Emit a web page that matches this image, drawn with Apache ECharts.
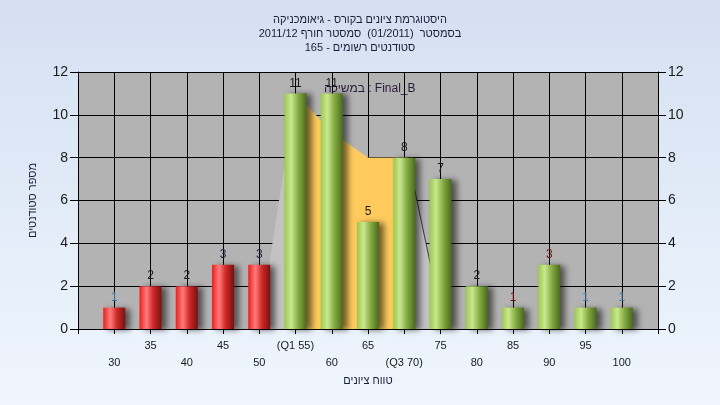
<!DOCTYPE html>
<html><head><meta charset="utf-8">
<script src="https://cdn.jsdelivr.net/npm/echarts@6/dist/echarts.min.js"></script>
<style>html,body{margin:0;padding:0}#c{width:720px;height:405px}</style>
</head><body><div id="c"></div>
<script>
// ---- data ----
const categories = [30, 35, 40, 45, 50, 55, 60, 65, 70, 75, 80, 85, 90, 95, 100];
const counts = [1, 2, 2, 3, 3, 11, 11, 5, 8, 7, 2, 1, 3, 1, 1];
const tickLabels = ['30', '35', '40', '45', '50', '(Q1 55)', '60', '65', '(Q3 70)', '75', '80', '85', '90', '95', '100'];
const failingBins = 5; // first bins drawn red
const titleLines = ['היסטוגרמת ציונים בקורס - גיאומכניקה', 'בסמסטר  (01/2011)  סמסטר חורף 2011/12', 'סטודנטים רשומים - 165'];
const seriesName = 'במשיכה : Final_B';
const xName = 'טווח ציונים';
const yName = 'מספר סטודנטים';
const bandX = [55, 60, 65, 70];
const bandY = [11, 9.2, 8, 8];
const shadeX = [50, 55, 60, 65, 70, 70.5, 75.5];
const shadeY = [0, 11, 9.2, 8, 8, 8, 0];
const edgeX = [70.5, 75.5];
const edgeY = [8, 0];

// ---- styles ----
const labelColors = ['#3d6d9c', '#1a1a1a', '#1a1a1a', '#1c2440', '#1c2440', '#1a1a1a', '#1a1a1a', '#1a1a1a', '#1a1a1a', '#1a1a1a', '#1a1a1a', '#7a0a0a', '#6a1a1a', '#3d7ab0', '#3d7ab0'];
const redGrad = {type: 'linear', x: 0, y: 0, x2: 1, y2: 0, colorStops: [
  {offset: 0, color: '#f01c1c'}, {offset: 0.32, color: '#ff7c7c'}, {offset: 0.62, color: '#d02828'}, {offset: 1, color: '#7a1010'}]};
const greenGrad = {type: 'linear', x: 0, y: 0, x2: 1, y2: 0, colorStops: [
  {offset: 0, color: '#9cc94c'}, {offset: 0.3, color: '#c9e88f'}, {offset: 0.62, color: '#86ab42'}, {offset: 1, color: '#4a6a1c'}]};
const RLE = '\u202B', PDF = '\u202C';
const font = '"Liberation Sans", Arial, "DejaVu Sans", sans-serif';

const chart = echarts.init(document.getElementById('c'), null, {renderer: 'canvas'});
const barData = categories.map((c, i) => ({
  value: [c, counts[i]],
  itemStyle: {color: i < failingBins ? redGrad : greenGrad},
  label: {color: labelColors[i]}
}));

chart.setOption({
  animation: false,
  backgroundColor: {type: 'linear', x: 0, y: 0, x2: 0, y2: 1, colorStops: [
    {offset: 0, color: '#d4e0f2'}, {offset: 1, color: '#eff6fd'}]},
  textStyle: {fontFamily: font},
  title: {
    text: titleLines.map(t => RLE + t + PDF).join('\n'),
    left: 'center', top: 8,
    textStyle: {fontSize: 11, fontWeight: 'normal', color: '#1c1c3a', lineHeight: 14, fontFamily: font}
  },
  legend: {
    data: [{name: seriesName, icon: 'rect'}],
    left: 314, top: 78, itemWidth: 0, itemHeight: 0, itemGap: 0,
    textStyle: {fontSize: 12, color: '#2a1a3a', fontFamily: font}
  },
  grid: {left: 78, right: 62, top: 72, bottom: 76, show: true, backgroundColor: '#b3b3b3', borderWidth: 0},
  xAxis: {
    type: 'value', min: 25, max: 105, interval: 5,
    name: xName, nameLocation: 'middle', nameGap: 46,
    nameTextStyle: {fontSize: 11, color: '#1c1c3a', fontFamily: font},
    axisLine: {show: true, lineStyle: {color: '#000', width: 1}},
    axisTick: {show: true, length: 5, lineStyle: {color: '#000'}},
    splitLine: {show: true, lineStyle: {color: '#000', width: 1}},
    axisLabel: {
      margin: 8, fontSize: 11, color: '#1a1a1a', lineHeight: 17, fontFamily: font,
      formatter: v => {
        const i = categories.indexOf(v);
        if (i < 0) return '';
        return (i % 2 === 0 ? '\n' : '') + tickLabels[i];
      }
    }
  },
  yAxis: [{
    type: 'value', min: 0, max: 12, interval: 2, position: 'left',
    name: yName, nameLocation: 'middle', nameGap: 40, nameRotate: 90,
    nameTextStyle: {fontSize: 11, color: '#1c1c3a', fontFamily: font},
    axisLine: {show: true, lineStyle: {color: '#000'}},
    axisTick: {show: true, length: 8, lineStyle: {color: '#000'}},
    splitLine: {show: true, lineStyle: {color: '#000', width: 1}},
    axisLabel: {margin: 10, fontSize: 14, color: '#1a1a1a', fontFamily: font}
  }, {
    type: 'value', min: 0, max: 12, interval: 2, position: 'right',
    axisLine: {show: true, lineStyle: {color: '#000'}},
    axisTick: {show: true, length: 8, lineStyle: {color: '#000'}},
    splitLine: {show: false},
    axisLabel: {margin: 10, fontSize: 14, color: '#1a1a1a', fontFamily: font}
  }],
  series: [{
    name: 'shade', type: 'line', z: 1,
    data: shadeX.map((x, i) => [x, shadeY[i]]),
    symbol: 'none', lineStyle: {width: 0}, areaStyle: {color: '#c2c2c2', opacity: 1},
    silent: true
  }, {
    name: 'edge', type: 'line', z: 1,
    data: edgeX.map((x, i) => [x, edgeY[i]]),
    symbol: 'none', lineStyle: {width: 1, color: '#3a3a3a'}, silent: true
  }, {
    name: seriesName, type: 'line', z: 1,
    data: bandX.map((x, i) => [x, bandY[i]]),
    symbol: 'none', itemStyle: {color: '#ffcb5c'},
    lineStyle: {width: 0}, areaStyle: {color: '#ffcb5c', opacity: 1}
  }, {
    name: 'counts', type: 'bar', z: 3, barWidth: 22,
    data: barData,
    itemStyle: {shadowColor: 'rgba(0,0,0,0.55)', shadowBlur: 6, shadowOffsetX: 5, shadowOffsetY: 1},
    label: {show: true, position: 'top', distance: 4, fontSize: 12, fontFamily: font,
      formatter: p => p.value[1]}
  }]
});
</script>
</body></html>
